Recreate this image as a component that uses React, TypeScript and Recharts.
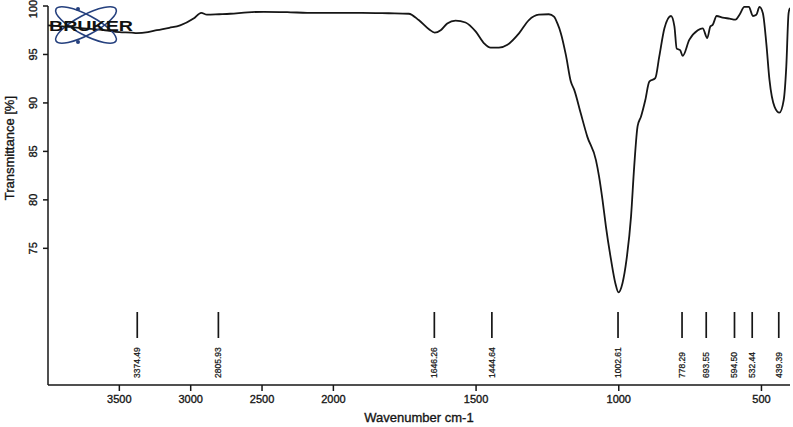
import React from 'react'
import { LineChart, Line, XAxis, YAxis, ReferenceLine } from 'recharts'

// spectrum (wavenumber cm-1 / transmittance %)
const wavenumbers = [
  4000, 3900, 3750, 3600, 3500, 3413, 3378, 3300, 3237, 3150, 3074, 2980, 2926, 2886, 2800,
  2723, 2600, 2488, 2300, 2184, 2000, 1900, 1806, 1736, 1701, 1665, 1645, 1624, 1601, 1572,
  1537, 1501, 1472, 1449, 1420, 1390, 1349, 1315, 1280, 1245, 1227, 1215, 1203, 1185, 1168,
  1156, 1133, 1110, 1080, 1069, 1057, 1045, 1027, 1012, 1001, 987, 973, 957, 946, 934,
  922, 907, 893, 872, 858, 840, 817, 805, 797, 785, 776, 753, 723, 706, 690,
  679, 671, 657, 636, 612, 591, 577, 560, 544, 530, 518, 507, 495, 483, 472,
  454, 437, 422, 413, 405, 400,
]
const transmittance = [
  98.0, 97.9, 97.7, 97.5, 97.3, 97.25, 97.2, 97.3, 97.5, 97.75, 98.0, 98.7, 99.3, 99.1, 99.15,
  99.2, 99.35, 99.4, 99.35, 99.3, 99.3, 99.3, 99.25, 99.2, 98.55, 97.6, 97.25, 97.5, 98.2, 98.5,
  98.3, 97.35, 96.15, 95.7, 95.7, 96.0, 97.2, 98.55, 99.1, 99.15, 98.9, 98.2, 97.2, 94.9, 92.2,
  91.35, 88.9, 86.5, 84.1, 82.4, 80.0, 77.25, 73.8, 71.4, 70.45, 71.4, 73.8, 78.3, 83.4, 87.6,
  88.6, 90.3, 92.2, 92.55, 94.8, 97.7, 98.97, 97.9, 95.6, 95.45, 94.85, 96.5, 97.5, 97.7, 96.7,
  97.9, 98.05, 98.97, 98.8, 98.7, 98.6, 99.1, 99.9, 99.9, 98.97, 99.1, 99.9, 99.25, 96.15, 92.4,
  89.6, 89.0, 90.3, 93.75, 99.25, 99.8,
]

const peaks = [3374.49, 2805.93, 1646.26, 1444.64, 1002.61, 778.29, 693.55, 594.5, 532.44, 439.39]
const xTicks = [3500, 3000, 2500, 2000, 1500, 1000, 500]
const yTicks = [75, 80, 85, 90, 95, 100]

// OPUS style axis: above 2000 cm-1 the scale is compressed by half
const toAxis = (w: number) => (w <= 2000 ? w : 2000 + (w - 2000) / 2)
const fromAxis = (u: number) => (u <= 2000 ? u : 2000 + (u - 2000) * 2)

const data = wavenumbers.map((w, i) => ({ u: toAxis(w), t: transmittance[i] }))

const font = '"Liberation Sans", Arial, sans-serif'
const ink = '#161616'
// the scan is blurred, so text gets a hairline stroke to look as heavy
const heavy = { stroke: ink, strokeWidth: 0.35 }

function YTick({ x, y, payload }: any) {
  const tx = x - 6
  return (
    <text x={tx} y={y} transform={`rotate(-90, ${tx}, ${y})`} textAnchor="middle"
      fontSize={11} fill={ink} fontFamily={font} {...heavy}>
      {payload.value}
    </text>
  )
}

function YTitle({ viewBox }: any) {
  const x = viewBox.x + 14
  const y = viewBox.y + viewBox.height * 0.375
  return (
    <text x={x} y={y} transform={`rotate(-90, ${x}, ${y})`} textAnchor="middle"
      fontSize={13} fill={ink} fontFamily={font} {...heavy}>
      Transmittance [%]
    </text>
  )
}

function peakMarker(value: number) {
  return (props: any) => {
    const x = props.x1
    const bottom = Math.max(props.y1, props.y2)
    const ty = bottom - 7
    return (
      <g>
        <line x1={x} x2={x} y1={bottom - 73} y2={bottom - 47} stroke={ink} strokeWidth={1.7} />
        <text x={x + 3} y={ty} transform={`rotate(-90, ${x + 3}, ${ty})`} textAnchor="start"
          fontSize={8.5} fill={ink} fontFamily={font} stroke={ink} strokeWidth={0.25}>
          {value.toFixed(2)}
        </text>
      </g>
    )
  }
}

function BrukerLogo() {
  return (
    <svg width={793} height={427} style={{ position: 'absolute', left: 0, top: 0, pointerEvents: 'none' }}>
      <g fill="none" stroke="#25407e" strokeWidth={1.6}>
        <ellipse cx={86} cy={25} rx={34} ry={10} transform="rotate(28, 86, 25)" />
        <ellipse cx={86} cy={25} rx={34} ry={10} transform="rotate(-28, 86, 25)" />
      </g>
      <circle cx={78} cy={9} r={2} fill="#25407e" />
      <circle cx={78} cy={42} r={2} fill="#25407e" />
      <text x={49} y={31} fontSize={14} fontWeight="bold" fontFamily={font} fill="#111"
        textLength={84} lengthAdjust="spacingAndGlyphs">
        BRUKER
      </text>
    </svg>
  )
}

export default function App() {
  return (
    <div style={{ position: 'absolute', left: 0, top: 0, width: 793, height: 427, background: '#fff' }}>
      <LineChart width={793} height={427} data={data}
        margin={{ top: 6, right: 3, bottom: 0, left: 0 }}>
        <XAxis xAxisId="x" dataKey="u" type="number" domain={[400, 3000]} reversed
          ticks={xTicks.map(toAxis)} tickFormatter={(u: number) => String(fromAxis(u))}
          tickSize={6} tickMargin={4} height={42} allowDataOverflow
          stroke={ink} strokeWidth={1.5}
          tick={{ fontSize: 11, fill: ink, fontFamily: font, ...heavy }}
          label={{ value: 'Wavenumber cm-1', position: 'insideBottom', offset: 5,
            fontSize: 13, fill: ink, fontFamily: font, ...heavy }} />
        <XAxis xAxisId="top" dataKey="u" type="number" domain={[400, 3000]} reversed
          orientation="top" height={0} tick={false} tickLine={false}
          stroke={ink} strokeWidth={1.5} />
        <YAxis yAxisId="y" type="number" domain={[60.9, 100]} ticks={yTicks}
          width={48} tickSize={5} tickMargin={0} allowDataOverflow
          stroke={ink} strokeWidth={1.5} tick={<YTick />}
          label={{ content: <YTitle /> }} />
        <YAxis yAxisId="r" orientation="right" type="number" domain={[60.9, 100]}
          width={0} tick={false} tickLine={false} stroke={ink} strokeWidth={1.5} />
        {peaks.map(p => (
          <ReferenceLine key={p} xAxisId="x" yAxisId="y" x={toAxis(p)}
            shape={peakMarker(p)} />
        ))}
        <Line xAxisId="x" yAxisId="y" dataKey="t" type="monotone" stroke={ink}
          strokeWidth={1.8} dot={false} isAnimationActive={false} />
      </LineChart>
      <BrukerLogo />
    </div>
  )
}
